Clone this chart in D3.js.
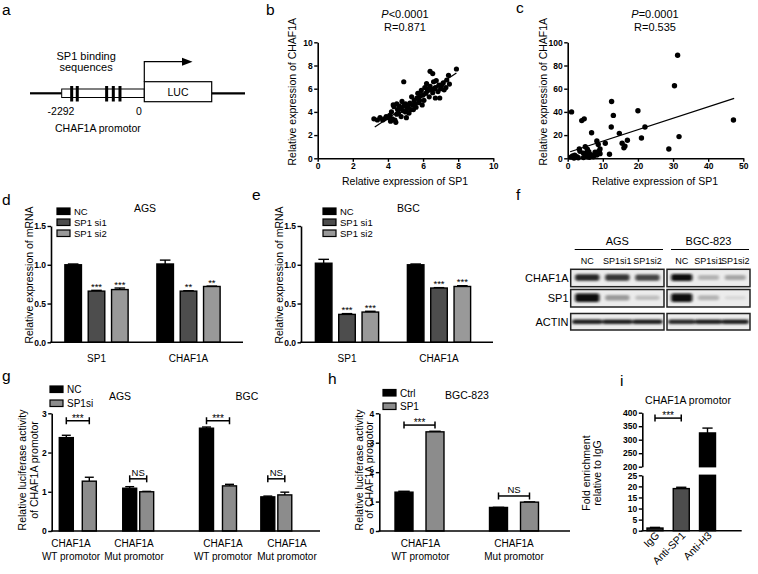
<!DOCTYPE html>
<html>
<head>
<meta charset="utf-8">
<script src="https://cdn.jsdelivr.net/npm/d3@7/dist/d3.min.js"></script>
<style>
html,body{margin:0;padding:0;background:#fff;}
svg{display:block;}
</style>
</head>
<body>
<svg id="fig" width="758" height="574"></svg>
<script>
// ================= DATA =================
// panel a: SP1 binding sites (bp, relative to TSS)
const promoterStart = -2292;
const sp1SitesBP = [-2015, -1860, -1045, -860, -675];

// panel b: tissue scatter (SP1, CHAF1A)
const bPoints = [[3.2,3.4],[3.4,3.3],[3.55,3.5],[3.7,3.3],[3.8,3.4],[3.9,3.6],[4.0,3.5],[4.1,3.7],[4.15,3.2],[4.2,4.0],
  [4.25,3.4],[4.3,4.6],[4.35,4.45],[4.4,3.3],[4.45,3.1],[4.5,4.7],[4.5,3.8],[4.55,4.2],[4.6,3.9],[4.65,4.5],
  [4.7,4.3],[4.75,3.6],[4.8,4.9],[4.85,4.1],[4.9,4.5],[4.9,6.6],[5.0,4.0],[5.0,4.7],[5.05,3.5],[5.1,4.3],
  [5.15,4.45],[5.2,3.9],[5.25,4.75],[5.3,4.2],[5.35,5.3],[5.4,4.6],[5.45,4.2],[5.5,5.0],[5.55,4.7],[5.6,4.4],
  [5.65,5.2],[5.7,5.6],[5.75,4.8],[5.8,5.0],[5.85,5.4],[5.9,5.85],[5.95,4.6],[6.0,5.45],[6.05,5.0],[6.1,6.1],
  [6.15,5.6],[6.2,6.45],[6.25,5.8],[6.3,6.0],[6.35,5.3],[6.4,6.2],[6.4,7.5],[6.5,5.9],[6.55,7.3],[6.55,5.65],
  [6.6,6.6],[6.65,6.0],[6.7,6.1],[6.7,5.2],[6.75,6.7],[6.85,5.75],[6.9,6.3],[6.95,5.2],[7.0,6.0],[7.05,6.3],
  [7.15,6.5],[7.2,5.9],[7.3,6.1],[7.35,6.75],[7.45,7.15],[7.5,6.4],[7.9,7.7]];
const bFit = {slope: 1.0, intercept: -0.55, from: 3.25, to: 7.9};
const bTicksX = [0,2,4,6,8,10];
const bTicksY = [0,2,4,6,8,10];
const bStats = ["<0.0001", "R=0.871"];

// panel c: TCGA scatter (SP1, CHAF1A)
const cPoints = [[1.1,40],[4,32.5],[4.7,34],[6.8,22],[12.5,49],[12.4,27],[13,37],[20,41],[22,27],[21,17.5],
  [14.7,21.5],[15.5,13],[16,9],[16.3,10.5],[17,15.5],[28.8,8],[30.4,62.6],[31.3,88.8],[31.7,18.7],[47.2,33],
  [8.3,15],[8.7,12],[10.7,13],[11.9,3.5],[9.2,8],[9.2,4],[9.0,6],[0.9,1],[1.4,2],[2,2.6],[2.6,1.4],[3.5,6],
  [3.3,8],[4.5,4.3],[5.1,2.9],[5.6,1.4],[6,5.7],[6.4,3.4],[7.3,1.4],[7.8,5.2],[5.6,7.8],[5,10],[4.5,0.6],
  [6.2,0.8],[8.3,2.9],[8.7,5.7],[3,0.5],[1.8,0.3],[7,2.5],[5.5,5]];
const cFit = {slope: 0.985, intercept: 5.0, from: 0.7, to: 47.4};
const cTicksX = [0,10,20,30,40,50];
const cTicksY = [0,20,40,60,80,100];
const cStats = ["=0.0001", "R=0.535"];

// panels d, e: qPCR
const mrnaGroups = ["SP1", "CHAF1A"];
const siSeries = ["NC", "SP1 si1", "SP1 si2"];
const dMean = [[1.00, 1.01], [0.66, 0.66], [0.68, 0.72]];
const dErr  = [[0.01, 0.05], [0.01, 0.005], [0.02, 0.005]];
const dStars = [["", ""], ["***", "**"], ["***", "**"]];
const eMean = [[1.02, 1.00], [0.36, 0.70], [0.39, 0.72]];
const eErr  = [[0.05, 0.01], [0.01, 0.005], [0.01, 0.01]];
const eStars = [["", ""], ["***", "***"], ["***", "***"]];
const mrnaTicks = [0, 0.5, 1.0, 1.5];

// panel f: western blot band intensities (rows x lanes)
const blotLanes = ["NC", "SP1si1", "SP1si2"];
const blotRows = ["CHAF1A", "SP1", "ACTIN"];
const blotAGS = [[0.85, 0.80, 0.75], [0.95, 0.40, 0.25], [0.90, 0.88, 0.88]];
const blotBGC = [[0.95, 0.30, 0.35], [0.95, 0.30, 0.12], [0.85, 0.88, 0.88]];

// panel g: luciferase, SP1 knockdown
const gGroups = ["AGS WT", "AGS Mut", "BGC WT", "BGC Mut"];
const gLabels = [["CHAF1A","WT promotor"],["CHAF1A","Mut promotor"],["CHAF1A","WT promotor"],["CHAF1A","Mut promotor"]];
const gSeries = ["NC", "SP1si"];
const gMean = [[2.38, 1.09, 2.62, 0.87], [1.27, 1.00, 1.15, 0.92]];
const gErr  = [[0.06, 0.04, 0.03, 0.02], [0.10, 0.01, 0.04, 0.07]];
const gSig = [{group:"AGS WT", level:2.81, label:"***"}, {group:"AGS Mut", level:1.33, label:"NS"},
              {group:"BGC WT", level:2.81, label:"***"}, {group:"BGC Mut", level:1.33, label:"NS"}];
const gTicks = [0,1,2,3];

// panel h: luciferase, SP1 overexpression
const hGroups = ["WT", "Mut"];
const hLabels = [["CHAF1A","WT promotor"],["CHAF1A","Mut promotor"]];
const hSeries = ["Ctrl", "SP1"];
const hMean = [[1.32, 0.80], [3.37, 0.98]];
const hErr  = [[0.03, 0.005], [0.02, 0.01]];
const hSig = [{group:"WT", level:3.6, label:"***"}, {group:"Mut", level:1.19, label:"NS"}];
const hTicks = [0,1,2,3,4];

// panel i: ChIP
const iCats = ["IgG", "Anti-SP1", "Anti-H3"];
const iMean = [1.2, 19, 325];
const iErr  = [0.3, 0.6, 18];
const iTicksLow = [0,5,10,15,20,25];
const iTicksHigh = [200,250,300,350,400];
const iSig = {from:"IgG", to:"Anti-SP1", level:380, label:"***"};

// ================= DRAW =================
const FONT = "'Liberation Sans', Arial, Helvetica, sans-serif";
const svg = d3.select("#fig").attr("font-family", FONT);
svg.append("rect").attr("width",758).attr("height",574).attr("fill","#fff");

function T(x, y, s, o = {}) {
  const t = (o.g || svg).append("text").attr("x", x).attr("y", y).text(s)
    .attr("font-size", o.size || 10.5)
    .attr("text-anchor", o.anchor || "start")
    .attr("font-weight", o.bold ? "bold" : "normal")
    .attr("fill", "#000");
  if (o.rotate) t.attr("transform", `rotate(${o.rotate},${x},${y})`);
  if (o.italic) t.attr("font-style", "italic");
  return t;
}
function styleAxis(g) {
  g.attr("font-family", FONT);
  g.select(".domain").attr("stroke", "#000").attr("stroke-width", 1.6);
  g.selectAll(".tick line").attr("stroke", "#000").attr("stroke-width", 1.4);
  g.selectAll(".tick text").attr("font-size", 8.5).attr("font-weight", "bold").attr("fill", "#000");
}
function hline(x1, x2, y, w = 1.6) {
  svg.append("line").attr("x1", x1).attr("x2", x2).attr("y1", y).attr("y2", y)
    .attr("stroke", "#000").attr("stroke-width", w);
}
function bracket(x1, x2, y, label) {
  hline(x1, x2, y, 1.5);
  [x1, x2].forEach(x => svg.append("line").attr("x1", x).attr("x2", x).attr("y1", y - 3.5).attr("y2", y + 3.5)
    .attr("stroke", "#000").attr("stroke-width", 1.5));
  if (label === "NS") T((x1 + x2) / 2, y - 2.5, label, {anchor: "middle", size: 9.5});
  else T((x1 + x2) / 2, y + 1, label, {anchor: "middle", size: 10});
}

// panel letters
[["a",2,15],["b",266,15],["c",516,13],["d",2,205],["e",252,200],["f",516,200],["g",2,381],["h",328,384],["i",620,386]]
  .forEach(([s, x, y]) => T(x, y, s, {size: 15.5}));

// ---------- panel a ----------
(function () {
  const bp = d3.scaleLinear().domain([promoterStart, 0]).range([61.7, 144.3]);
  const yMid = 93.3;
  hline(30, bp(promoterStart), yMid, 2.2);
  hline(211.7, 245, yMid, 2.2);
  svg.append("rect").attr("x", bp(promoterStart)).attr("y", 89).attr("width", bp(0) - bp(promoterStart))
    .attr("height", 8.5).attr("fill", "#fff").attr("stroke", "#000").attr("stroke-width", 1);
  svg.selectAll(".site").data(sp1SitesBP).join("rect").attr("class", "site")
    .attr("x", d => bp(d) - 1.5).attr("y", 86).attr("width", 3).attr("height", 15.5).attr("fill", "#000");
  svg.append("rect").attr("x", bp(0)).attr("y", 81.7).attr("width", 211.7 - bp(0)).attr("height", 20)
    .attr("fill", "#fff").attr("stroke", "#000").attr("stroke-width", 1.2);
  T((bp(0) + 211.7) / 2, 95.7, "LUC", {anchor: "middle", size: 10.5});
  svg.append("path").attr("d", `M${bp(0)},81.7 V61.7 H183`).attr("fill", "none").attr("stroke", "#000").attr("stroke-width", 1.2);
  svg.append("path").attr("d", `M182,57.7 L192.5,61.7 L182,65.7 Z`).attr("fill", "#000");
  T(56.5, 59.5, "SP1 binding", {size: 11});
  T(59.5, 71, "sequences", {size: 11});
  T(61, 115, "-2292", {anchor: "middle", size: 10.5});
  T(139, 115, "0", {anchor: "middle", size: 10.5});
  T(55, 131.5, "CHAF1A  promotor", {size: 10.5});
})();

// ---------- scatter panels ----------
function scatterPanel(pts, xDom, yDom, xTicks, yTicks, xR, yR, fit, r) {
  const x = d3.scaleLinear().domain(xDom).range(xR);
  const y = d3.scaleLinear().domain(yDom).range(yR);
  svg.append("g").attr("transform", `translate(0,${yR[0]})`)
    .call(d3.axisBottom(x).tickValues(xTicks).tickSize(3.5).tickSizeOuter(0).tickPadding(1.5)).call(styleAxis);
  svg.append("g").attr("transform", `translate(${xR[0]},0)`)
    .call(d3.axisLeft(y).tickValues(yTicks).tickSize(3.5).tickSizeOuter(0).tickPadding(1.5)).call(styleAxis);
  svg.append("g").selectAll("circle").data(pts).join("circle")
    .attr("cx", d => x(d[0])).attr("cy", d => y(d[1])).attr("r", r).attr("fill", "#000");
  svg.append("line").attr("x1", x(fit.from)).attr("y1", y(fit.slope * fit.from + fit.intercept))
    .attr("x2", x(fit.to)).attr("y2", y(fit.slope * fit.to + fit.intercept))
    .attr("stroke", "#000").attr("stroke-width", 1.2);
}
scatterPanel(bPoints, [0,10], [0,10], bTicksX, bTicksY, [317.7, 493.3], [158.3, 42.3], bFit, 2.6);
scatterPanel(cPoints, [0,50], [0,100], cTicksX, cTicksY, [567.7, 743.3], [158.3, 42.3], cFit, 2.7);
function stats(cx, st) {
  const t = T(cx, 17.5, "", {anchor: "middle", size: 11});
  t.append("tspan").attr("font-style", "italic").text("P");
  t.append("tspan").text(st[0]);
  T(cx, 31, st[1], {anchor: "middle", size: 11});
}
stats(405, bStats); stats(655, cStats);
T(296, 91.7, "Relative expression of CHAF1A", {anchor: "middle", rotate: -90});
T(405, 185, "Relative expression of SP1", {anchor: "middle"});
T(547, 91.7, "Relative expression of CHAF1A", {anchor: "middle", rotate: -90});
T(655, 185, "Relative expression of SP1", {anchor: "middle"});

// ---------- grouped bar helper ----------
function bars(p) {
  const g = svg.append("g");
  p.series.forEach((s, si) => {
    p.groups.forEach((gr, gi) => {
      const inner = p.inner(gr);
      const x = p.cx(gr) + inner(s), w = inner.bandwidth(), c = x + w / 2;
      const v = p.means[si][gi], e = p.errs[si][gi], y = p.y;
      g.append("line").attr("x1", c).attr("x2", c).attr("y1", y(v)).attr("y2", y(v + e)).attr("stroke", "#000").attr("stroke-width", 1.4);
      g.append("line").attr("x1", c - w * 0.32).attr("x2", c + w * 0.32).attr("y1", y(v + e)).attr("y2", y(v + e)).attr("stroke", "#000").attr("stroke-width", 1.4);
      g.append("rect").attr("x", x).attr("y", y(v)).attr("width", w).attr("height", y(0) - y(v))
        .attr("fill", p.colors[si]).attr("stroke", "#000").attr("stroke-width", 1.4);
      if (p.stars && p.stars[si][gi]) T(c, y(v + e) - 0.5, p.stars[si][gi], {anchor: "middle", size: 9.5, g});
    });
  });
  svg.append("g").attr("transform", `translate(${p.axisX},0)`)
    .call(d3.axisLeft(p.y).tickValues(p.ticks).tickFormat(d3.format(p.fmt)).tickSize(3.5).tickSizeOuter(0).tickPadding(1.5)).call(styleAxis);
  hline(p.axisX - 0.8, p.axisEnd, p.y(0), 1.6);
}
function legend(x, ys, names, colors, size) {
  names.forEach((n, i) => {
    svg.append("rect").attr("x", x).attr("y", ys[i] - 3.5).attr("width", 13).attr("height", 6.5)
      .attr("fill", colors[i]).attr("stroke", "#000").attr("stroke-width", 1.2);
    T(x + 17, ys[i] + 3.6, n, {size: size || 10});
  });
}
const siColors = ["#000", "#4d4d4d", "#999"];

// ---------- panel d ----------
const mrnaY = d3.scaleLinear().domain([0, 1.5]).range([342.3, 226]);
const mrnaInner = d3.scaleBand().domain(siSeries).range([-35, 35]).paddingInner(0.29).paddingOuter(0.145);
const dCx = d3.scalePoint().domain(mrnaGroups).range([96.5, 188.5]);
bars({groups: mrnaGroups, series: siSeries, means: dMean, errs: dErr, stars: dStars, colors: siColors,
      cx: dCx, inner: () => mrnaInner, y: mrnaY, ticks: mrnaTicks, fmt: ".1f", axisX: 51, axisEnd: 243});
mrnaGroups.forEach(gr => T(dCx(gr), 361.7, gr, {anchor: "middle", size: 10}));
legend(57, [211.5, 222.5, 233.5], siSeries, siColors, 9.5);
T(145, 212, "AGS", {anchor: "middle"});
T(33, 275, "Relative expression of mRNA", {anchor: "middle", rotate: -90});

// ---------- panel e ----------
const eCx = d3.scalePoint().domain(mrnaGroups).range([347, 439]);
bars({groups: mrnaGroups, series: siSeries, means: eMean, errs: eErr, stars: eStars, colors: siColors,
      cx: eCx, inner: () => mrnaInner, y: mrnaY, ticks: mrnaTicks, fmt: ".1f", axisX: 301, axisEnd: 493});
mrnaGroups.forEach(gr => T(eCx(gr), 361.7, gr, {anchor: "middle", size: 10}));
legend(323, [211.5, 222.5, 233.5], siSeries, siColors, 9.5);
T(408.5, 212, "BGC", {anchor: "middle"});
T(283, 275, "Relative expression of mRNA", {anchor: "middle", rotate: -90});

// ---------- panel f (western blot) ----------
(function () {
  const defs = svg.append("defs");
  defs.append("filter").attr("id", "blur").attr("x", "-20%").attr("y", "-60%").attr("width", "140%").attr("height", "220%")
    .append("feGaussianBlur").attr("stdDeviation", "1.6 1.1");
  const rowY = d3.scaleOrdinal().domain(blotRows).range([[269.3, 286.7], [289.5, 307], [313.5, 330]]);
  const sets = [{name: "AGS", data: blotAGS, x: [570.7, 664]}, {name: "BGC-823", data: blotBGC, x: [667, 750]}];
  sets.forEach((st, k) => {
    const lane = d3.scaleBand().domain(blotLanes).range(st.x).paddingInner(0.06).paddingOuter(0.08);
    const cx = (st.x[0] + st.x[1]) / 2;
    T(cx, 245, st.name, {anchor: "middle", size: 11});
    hline(st.x[0] + 4, st.x[1] - 1, 249.5, 1.2);
    blotLanes.forEach(l => T(lane(l) + lane.bandwidth() / 2, 264, l, {anchor: "middle", size: 9}));
    blotRows.forEach((r, ri) => {
      const [y0, y1] = rowY(r);
      const clipId = `clip${k}${ri}`;
      defs.append("clipPath").attr("id", clipId).append("rect").attr("x", st.x[0]).attr("y", y0).attr("width", st.x[1] - st.x[0]).attr("height", y1 - y0);
      const g = svg.append("g").attr("clip-path", `url(#${clipId})`);
      g.append("rect").attr("x", st.x[0]).attr("y", y0).attr("width", st.x[1] - st.x[0]).attr("height", y1 - y0).attr("fill", "#ececec");
      const bg = g.append("g").attr("filter", "url(#blur)");
      const ym = (y0 + y1) / 2;
      blotLanes.forEach((l, li) => {
        const v = st.data[ri][li];
        const h = r === "ACTIN" ? 4.5 : (r === "SP1" ? 3 + 6 * v : 4 + 3 * v);
        const wpad = r === "ACTIN" ? -1 : 2;
        bg.append("rect").attr("x", lane(l) + wpad).attr("y", ym - h / 2 + (r === "ACTIN" ? 0 : -0.5))
          .attr("width", lane.bandwidth() - 2 * wpad).attr("height", h).attr("rx", 2)
          .attr("fill", d3.interpolateGreys(0.15 + 0.85 * v));
      });
      svg.append("rect").attr("x", st.x[0]).attr("y", y0).attr("width", st.x[1] - st.x[0]).attr("height", y1 - y0)
        .attr("fill", "none").attr("stroke", "#222").attr("stroke-width", 1.5);
      if (k === 0) T(568.5, ym + 4, r, {anchor: "end", size: 11});
    });
  });
})();

// ---------- panel g ----------
const lucY = d3.scaleLinear().domain([0, 3]).range([531, 413.3]);
const gCx = d3.scaleOrdinal().domain(gGroups).range([77.8, 138.2, 218, 276.3]);
const gInnerWT = d3.scaleBand().domain(gSeries).range([-23, 23]).paddingInner(0.39).paddingOuter(0.195);
const gInnerMut = d3.scaleBand().domain(gSeries).range([-17, 17]).paddingInner(0.18).paddingOuter(0.09);
const gInner = gr => gr.includes("WT") ? gInnerWT : gInnerMut;
const lucColors = ["#000", "#8c8c8c"];
bars({groups: gGroups, series: gSeries, means: gMean, errs: gErr, colors: lucColors,
      cx: gCx, inner: gInner, y: lucY, ticks: gTicks, fmt: "d", axisX: 51.7, axisEnd: 320});
const gLabelX = d3.scaleOrdinal().domain(gGroups).range([71, 134, 223, 287]);
gGroups.forEach((gr, i) => { T(gLabelX(gr), 547, gLabels[i][0], {anchor: "middle", size: 10}); T(gLabelX(gr), 560, gLabels[i][1], {anchor: "middle", size: 10}); });
gSig.forEach(s => {
  const inn = gInner(s.group);
  bracket(gCx(s.group) + inn(gSeries[0]) + inn.bandwidth() / 2, gCx(s.group) + inn(gSeries[1]) + inn.bandwidth() / 2, lucY(s.level), s.label);
});
legend(50, [389.5, 403.5], gSeries, lucColors, 10);
T(120, 400, "AGS", {anchor: "middle"});
T(247, 400, "BGC", {anchor: "middle"});
T(26, 470, "Relative luciferase activity", {anchor: "middle", rotate: -90});
T(37.5, 470, "of CHAF1A promotor", {anchor: "middle", rotate: -90});

// ---------- panel h ----------
const hY = d3.scaleLinear().domain([0, 4]).range([531, 413.3]);
const hCx = d3.scalePoint().domain(hGroups).range([419.5, 514]);
const hInner = d3.scaleBand().domain(hSeries).range([-31, 31]).paddingInner(0.42).paddingOuter(0.21);
bars({groups: hGroups, series: hSeries, means: hMean, errs: hErr, colors: lucColors,
      cx: hCx, inner: () => hInner, y: hY, ticks: hTicks, fmt: "d", axisX: 379.3, axisEnd: 570});
const hLabelX = d3.scaleOrdinal().domain(hGroups).range([420.5, 514]);
hGroups.forEach((gr, i) => { T(hLabelX(gr), 547, hLabels[i][0], {anchor: "middle", size: 10}); T(hLabelX(gr), 560, hLabels[i][1], {anchor: "middle", size: 10}); });
hSig.forEach(s => bracket(hCx(s.group) + hInner(hSeries[0]) + hInner.bandwidth() / 2, hCx(s.group) + hInner(hSeries[1]) + hInner.bandwidth() / 2, hY(s.level), s.label));
legend(383, [393, 406.5], hSeries, lucColors, 10);
T(467, 399, "BGC-823", {anchor: "middle"});
T(362.5, 470, "Relative luciferase activity", {anchor: "middle", rotate: -90});
T(373, 470, "of CHAF1A promotor", {anchor: "middle", rotate: -90});

// ---------- panel i ----------
(function () {
  const yLow = d3.scaleLinear().domain([0, 25]).range([530.7, 475.3]);
  const yHigh = d3.scaleLinear().domain([200, 400]).range([466.7, 412.7]);
  const x = d3.scaleBand().domain(iCats).range([642, 720.5]).paddingInner(0.39).paddingOuter(0.19);
  const colors = ["#222", "#4d4d4d", "#000"];
  const w = x.bandwidth();
  iCats.forEach((c, i) => {
    const v = iMean[i], e = iErr[i], cx = x(c) + w / 2;
    const seg = v <= 25 ? yLow : yHigh;
    svg.append("line").attr("x1", cx).attr("x2", cx).attr("y1", seg(v)).attr("y2", seg(v + e)).attr("stroke", "#000").attr("stroke-width", 1.4);
    svg.append("line").attr("x1", cx - w * 0.32).attr("x2", cx + w * 0.32).attr("y1", seg(v + e)).attr("y2", seg(v + e)).attr("stroke", "#000").attr("stroke-width", 1.4);
    const lowTop = Math.min(v, 25);
    svg.append("rect").attr("x", x(c)).attr("y", yLow(lowTop)).attr("width", w).attr("height", yLow(0) - yLow(lowTop))
      .attr("fill", colors[i]).attr("stroke", "#000").attr("stroke-width", 1.4);
    if (v > 25) svg.append("rect").attr("x", x(c)).attr("y", yHigh(v)).attr("width", w).attr("height", yHigh(200) - yHigh(v))
      .attr("fill", colors[i]).attr("stroke", "#000").attr("stroke-width", 1.4);
    svg.append("text").attr("transform", `translate(${cx + 5},${536}) rotate(-45)`).attr("text-anchor", "end")
      .attr("font-size", 10.5).text(c);
  });
  svg.append("g").attr("transform", "translate(642.3,0)")
    .call(d3.axisLeft(yLow).tickValues(iTicksLow).tickSize(3.5).tickSizeOuter(0).tickPadding(1.5)).call(styleAxis);
  svg.append("g").attr("transform", "translate(642.3,0)")
    .call(d3.axisLeft(yHigh).tickValues(iTicksHigh).tickSize(3.5).tickSizeOuter(0).tickPadding(1.5)).call(styleAxis);
  hline(641.5, 741.7, yLow(0), 1.6);
  bracket(x(iSig.from) + w / 2, x(iSig.to) + w / 2, yHigh(iSig.level), iSig.label);
  T(688, 404, "CHAF1A promotor", {anchor: "middle", size: 10.5});
  T(590, 473, "Fold enrichment", {anchor: "middle", rotate: -90});
  T(601, 473, "relative to IgG", {anchor: "middle", rotate: -90});
})();
</script>
</body>
</html>
